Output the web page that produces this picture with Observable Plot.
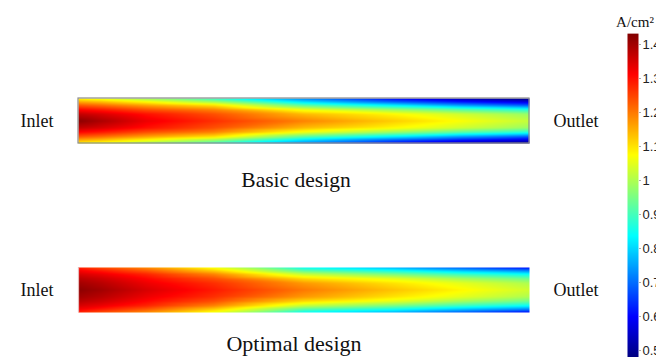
<!DOCTYPE html>
<html>
<head>
<meta charset="utf-8">
<script src="https://cdn.jsdelivr.net/npm/d3@7"></script>
<script src="https://cdn.jsdelivr.net/npm/@observablehq/plot@0.6"></script>
<style>
  html, body { margin: 0; padding: 0; background: white; }
  #wrap { position: relative; width: 656px; height: 357px; overflow: hidden; }
  #wrap svg { position: absolute; top: 0; }
</style>
</head>
<body>
<div id="wrap"></div>
<script>
// Designs (facets)
const designs = ["Basic design", "Optimal design"];

// Sample positions along the channel (inlet = 0, outlet = 1)
const xs = [0, 0.05, 0.15, 0.3, 0.5, 0.7, 0.85, 1];
// Sample positions across half the channel width (wall = 0, centre = 0.5)
const halfYs = [0, 0.07, 0.15, 0.25, 0.35, 0.5];

// Current density (A/cm²), one row per x position, columns = halfYs
const basicValues = [
  [1.08, 1.15, 1.23, 1.31, 1.37, 1.42],
  [1.05, 1.13, 1.21, 1.29, 1.35, 1.39],
  [0.98, 1.07, 1.16, 1.24, 1.30, 1.33],
  [0.88, 0.98, 1.10, 1.19, 1.24, 1.27],
  [0.72, 0.80, 0.92, 1.06, 1.14, 1.19],
  [0.60, 0.68, 0.82, 0.98, 1.08, 1.12],
  [0.53, 0.61, 0.74, 0.92, 1.03, 1.07],
  [0.48, 0.56, 0.68, 0.87, 0.98, 1.02]
];
const optimalValues = [
  [1.28, 1.32, 1.35, 1.38, 1.40, 1.42],
  [1.24, 1.29, 1.33, 1.36, 1.38, 1.40],
  [1.18, 1.23, 1.28, 1.31, 1.33, 1.35],
  [1.06, 1.12, 1.19, 1.24, 1.27, 1.29],
  [0.84, 0.92, 1.02, 1.11, 1.17, 1.20],
  [0.76, 0.85, 0.95, 1.05, 1.10, 1.13],
  [0.68, 0.78, 0.89, 0.99, 1.05, 1.08],
  [0.60, 0.72, 0.84, 0.94, 1.00, 1.03]
];

// Colour bar
const colorbarMin = 0.479, colorbarMax = 1.432;
const colorbarTicks = [1.4, 1.3, 1.2, 1.1, 1, 0.9, 0.8, 0.7, 0.6, 0.5];
const unitLabel = "A/cm²";
const jetColors = ["#000080", "#0000ff", "#00ffff", "#ffff00", "#ff0000", "#800000"];

// Build table (mirror the half-profile across the channel centre)
function buildGrid(design, values) {
  const rows = [];
  xs.forEach((x, i) => {
    halfYs.forEach((y, j) => {
      rows.push({design, x, y, v: values[i][j]});
      if (y < 0.5) rows.push({design, x, y: 1 - y, v: values[i][j]});
    });
  });
  return rows;
}
const grid = buildGrid(designs[0], basicValues).concat(buildGrid(designs[1], optimalValues));

const span = colorbarMax - colorbarMin;
const colorScale = {
  type: "linear",
  domain: [0, 0.125, 0.375, 0.625, 0.875, 1].map(t => colorbarMin + t * span),
  range: jetColors,
  interpolate: "rgb",
  clamp: true
};

const serif = "'Liberation Serif', 'Times New Roman', serif";

const main = Plot.plot({
  width: 656,
  height: 357,
  marginLeft: 78,
  marginRight: 127,
  marginTop: 97.7,
  marginBottom: 44,
  style: {fontFamily: serif, background: "transparent"},
  x: {domain: [0, 1], axis: null},
  y: {domain: [0, 1], axis: null},
  fy: {domain: designs, axis: null, paddingInner: 0.7335, paddingOuter: 0},
  color: colorScale,
  marks: [
    Plot.raster(grid, {
      x: "x", y: "y", fill: "v", fy: "design",
      x1: 0, x2: 1, y1: 0, y2: 1,
      interpolate: "barycentric"
    }),
    Plot.rect([designs[0]], {fy: d => d, x1: 0, x2: 1, y1: 0, y2: 1, fill: "none", stroke: "#8c8c8c", strokeWidth: 1.2}),
    Plot.ruleX([0], {fy: () => designs[1], y1: 0, y2: 1, stroke: "#e6b8b8", strokeWidth: 1.2}),
    Plot.text(designs, {fy: d => d, text: () => "Inlet", frameAnchor: "left", textAnchor: "end", dx: -25, fontSize: 18, fill: "#111"}),
    Plot.text(designs, {fy: d => d, text: () => "Outlet", frameAnchor: "right", textAnchor: "start", dx: 24, fontSize: 18, fill: "#111"}),
    Plot.text([designs[0]], {fy: d => d, text: d => d, frameAnchor: "bottom", lineAnchor: "top", dy: 28, dx: -8, fontSize: 21.5, fill: "#111"}),
    Plot.text([designs[1]], {fy: d => d, text: d => d, frameAnchor: "bottom", lineAnchor: "top", dy: 23, dx: -10, fontSize: 22, fill: "#111"})
  ]
});
main.style.left = "0px";

const bar = Plot.plot({
  width: 60,
  height: 357,
  marginLeft: 31,
  marginRight: 18,
  marginTop: 44,
  marginBottom: 7,
  style: {fontFamily: "'Liberation Sans', Arial, sans-serif", fontSize: "13px", background: "transparent", overflow: "visible"},
  x: {domain: [0, 1], axis: null},
  y: {domain: [0.5, 1.4], axis: null},
  color: colorScale,
  marks: [
    Plot.raster({fill: (x, y) => y, x1: 0, x2: 1, y1: colorbarMin, y2: colorbarMax, pixelSize: 1}),
    Plot.axisY(colorbarTicks, {anchor: "right", tickSize: 2, tickPadding: 2, stroke: "#aaa", fill: "#222", fontSize: 13, tickFormat: d => String(d), label: null}),
    Plot.text([unitLabel], {text: d => d, frameAnchor: "top", dy: -28, dx: 2, fontSize: 15, fontFamily: serif, fill: "#111"})
  ]
});
bar.style.left = "596px";

const wrap = document.getElementById("wrap");
wrap.appendChild(main);
wrap.appendChild(bar);
</script>
</body>
</html>
